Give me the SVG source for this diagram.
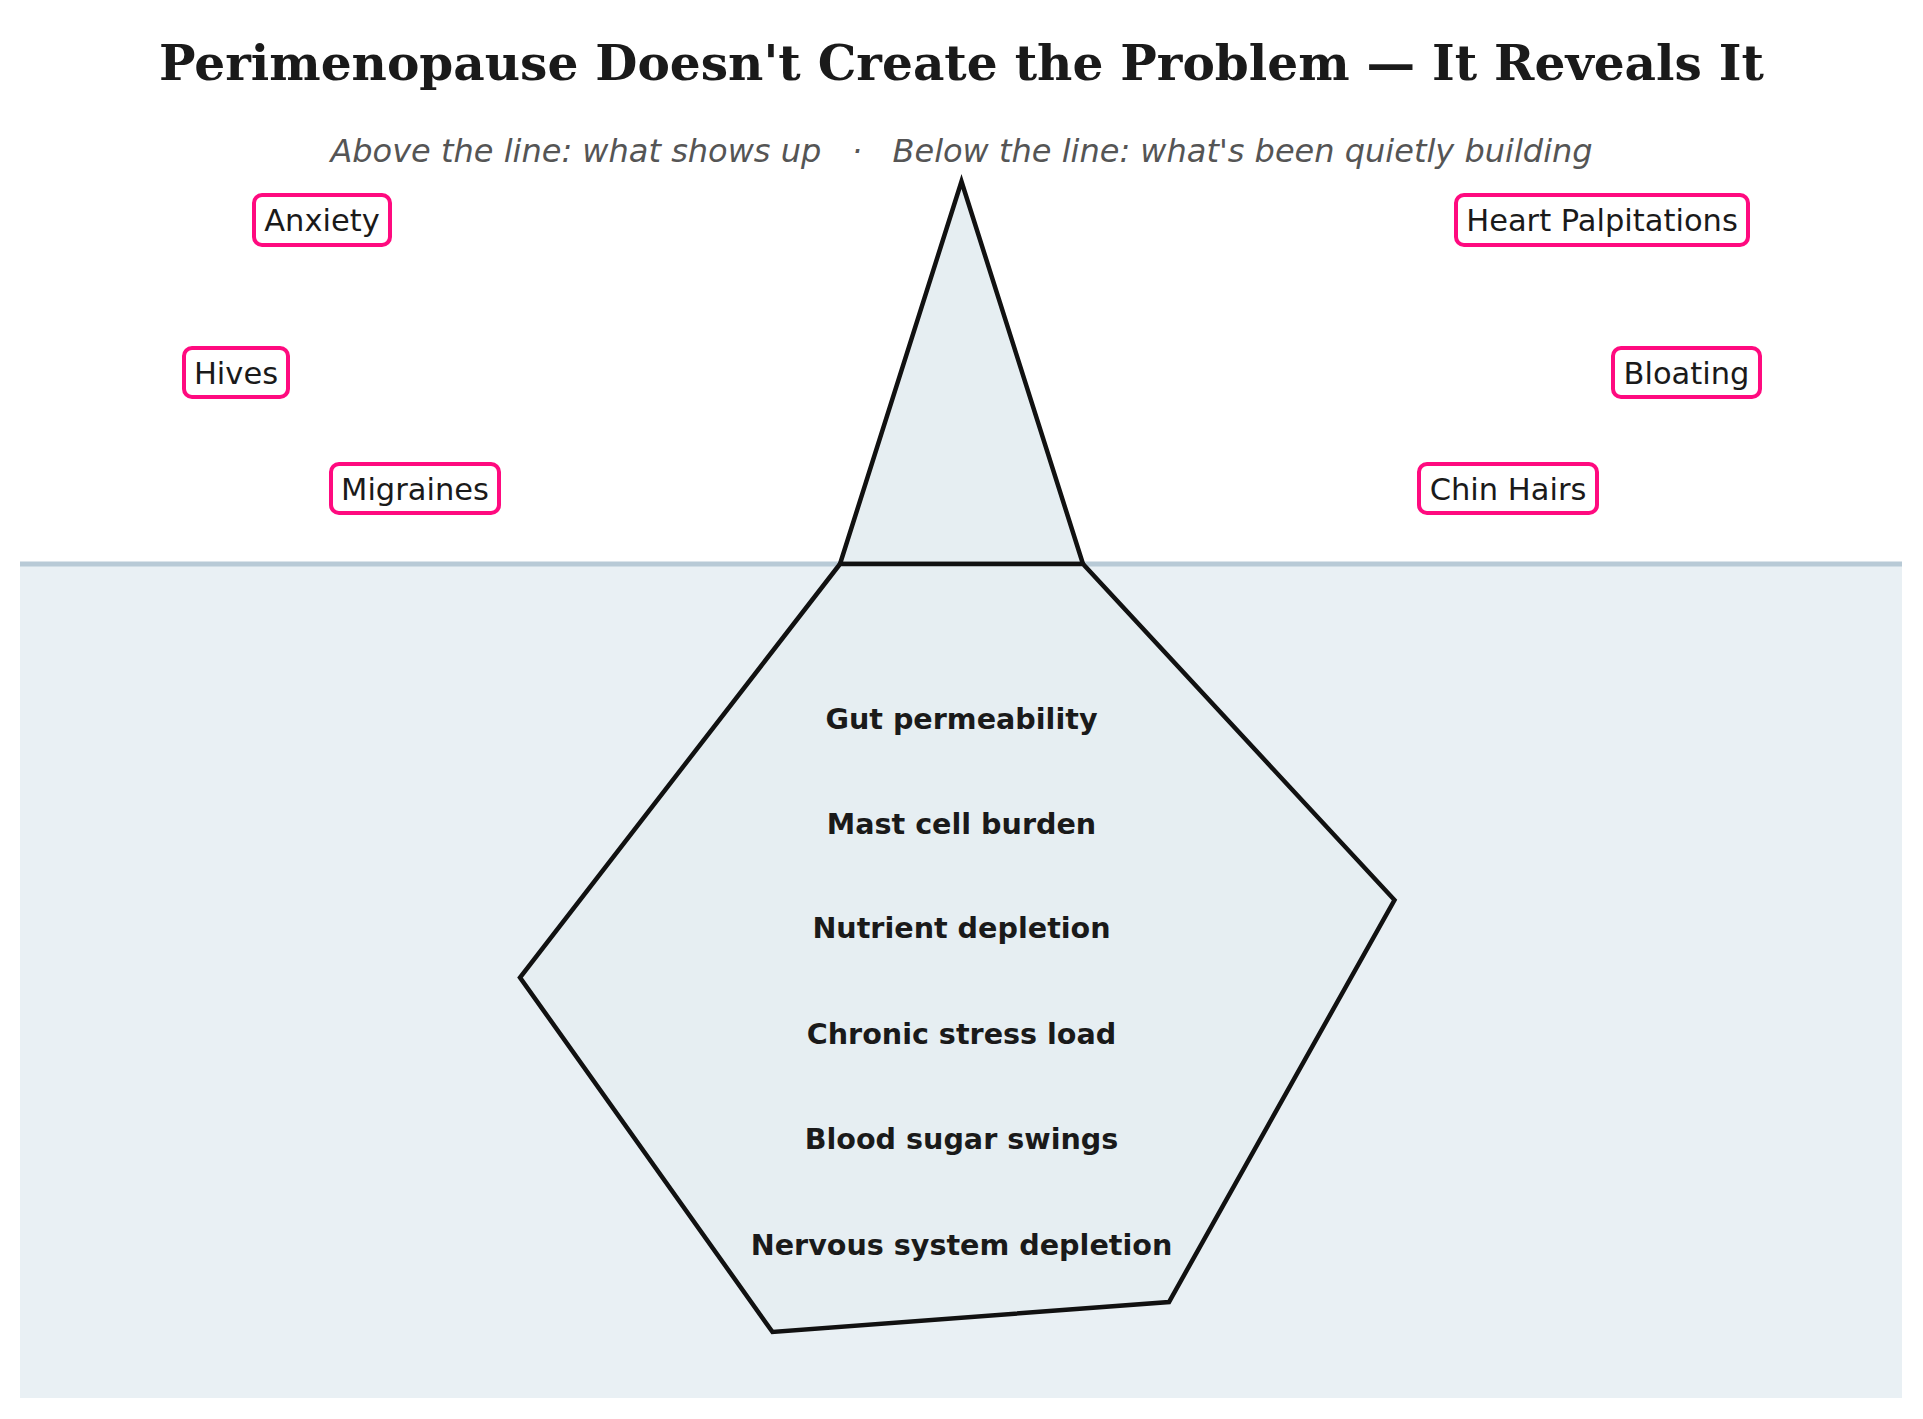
<svg xmlns="http://www.w3.org/2000/svg" width="1923" height="1419" viewBox="0 0 1923 1419">
<style>
.lab rect{fill:#fff;stroke:#ff0a7f;stroke-width:4}
.lab text{font-family:"DejaVu Sans",sans-serif;font-size:30.5px;fill:#1a1a1a;text-anchor:middle;dominant-baseline:central}
.cause{font-family:"DejaVu Sans",sans-serif;font-size:28.6px;font-weight:bold;fill:#1a1a1a;text-anchor:middle;dominant-baseline:central}
.ice{fill:#e6eef2;stroke:#111;stroke-width:4.5;stroke-linejoin:miter}
</style>
<rect width="1923" height="1419" fill="#fff"/>
<text x="961.5" y="80" font-family="DejaVu Serif,serif" font-weight="bold" font-size="48.6" fill="#1a1a1a" text-anchor="middle">Perimenopause Doesn't Create the Problem — It Reveals It</text>
<text x="961.5" y="162" font-family="DejaVu Sans,sans-serif" font-style="italic" font-size="32" fill="#555" text-anchor="middle" xml:space="preserve">Above the line: what shows up   ·   Below the line: what's been quietly building</text>
<rect x="20" y="564" width="1882" height="834" fill="#e9f0f4"/>
<line x1="20" y1="564" x2="1902" y2="564" stroke="#b8cad6" stroke-width="5"/>
<g id="iceberg-tip"><polygon class="ice" points="961.5,181.5 840,564 1083,564"/></g>
<g id="iceberg-base">
<polygon class="ice" points="840,564 520,977.5 772.5,1332 1169,1302 1394.5,900 1083,564"/>
<text class="cause" x="961.5" y="719">Gut permeability</text>
<text class="cause" x="961.5" y="824">Mast cell burden</text>
<text class="cause" x="961.5" y="928">Nutrient depletion</text>
<text class="cause" x="961.5" y="1034">Chronic stress load</text>
<text class="cause" x="961.5" y="1139">Blood sugar swings</text>
<text class="cause" x="961.5" y="1245">Nervous system depletion</text>
</g>
<g id="anxiety" class="lab"><rect x="254" y="195" width="136" height="50" rx="8"/><text x="322" y="220">Anxiety</text></g>
<g id="hives" class="lab"><rect x="184" y="348" width="104" height="49" rx="8"/><text x="236" y="373">Hives</text></g>
<g id="migraines" class="lab"><rect x="331" y="464" width="168" height="49" rx="8"/><text x="415" y="489">Migraines</text></g>
<g id="palpitations" class="lab"><rect x="1456" y="195" width="292" height="50" rx="8"/><text x="1602" y="220">Heart Palpitations</text></g>
<g id="bloating" class="lab"><rect x="1613" y="348" width="147" height="49" rx="8"/><text x="1686.5" y="373">Bloating</text></g>
<g id="chinhairs" class="lab"><rect x="1419" y="464" width="178" height="49" rx="8"/><text x="1508" y="489">Chin Hairs</text></g>
<g id="connectors"/>
</svg>
